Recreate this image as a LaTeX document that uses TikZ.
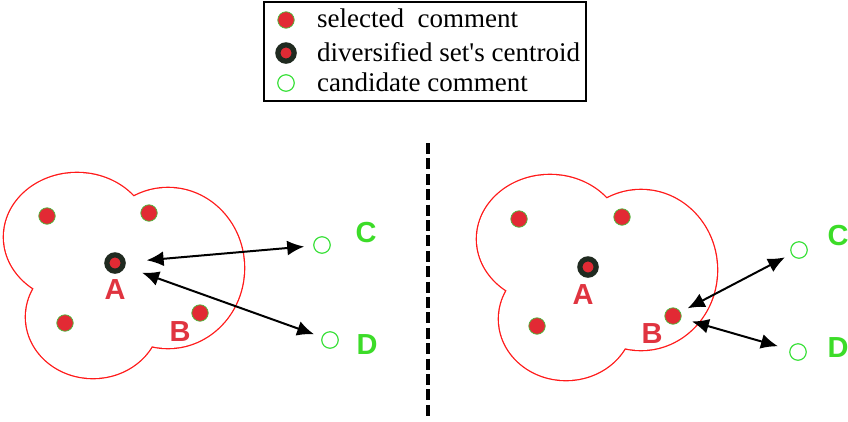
\documentclass[tikz,border=0pt]{standalone}
\usepackage{fontspec}
\setmainfont{Liberation Serif}
\setsansfont{Liberation Sans}
\newfontfamily\legendfont{Liberation Serif}
\usepackage{xcolor}
\usepackage{tikz}
\usetikzlibrary{arrows.meta}
\definecolor{dotred}{RGB}{226,42,52}
\definecolor{dotgreen}{RGB}{70,190,60}
\definecolor{ringdark}{RGB}{32,42,32}
\definecolor{candgreen}{RGB}{60,225,60}
\definecolor{labred}{RGB}{224,52,64}
\definecolor{labgreen}{RGB}{60,220,40}
\definecolor{cloudred}{RGB}{255,25,25}

% three overlapping lobes of a cluster
\newcommand{\lobes}{(77,237) ellipse [x radius=73pt, y radius=64pt]
  (93,317) ellipse [x radius=67pt, y radius=61pt]
  (168,268) ellipse [x radius=76pt, y radius=80pt]}

\begin{document}
\begin{tikzpicture}[x=1pt,y=-1pt,
    selected/.style={circle, fill=dotred, draw=dotgreen, line width=0.7pt, minimum size=16.5pt, inner sep=0pt},
    centroid/.style={circle, fill=dotred, draw=ringdark, line width=5.2pt, minimum size=16.3pt, inner sep=0pt},
    candidate/.style={circle, fill=white, draw=candgreen, line width=1.2pt, minimum size=16.5pt, inner sep=0pt},
    legtext/.style={anchor=base west, inner sep=0pt, font=\legendfont\fontsize{27}{33}\selectfont},
    lbl/.style={inner sep=0pt, font=\sffamily\bfseries\fontsize{29}{29}\selectfont},
    link/.style={{Latex[length=17pt,width=15pt]}-{Latex[length=17pt,width=15pt]}, line width=2pt}]
  \useasboundingbox (0,0) rectangle (848,421);

  % legend
  \draw[line width=2pt] (264,2) rectangle (586,101);
  \node[selected] (lsel) at (286,20) {};
  \node[centroid] (lcen) at (286,53) {};
  \node[candidate] (lcand) at (286,83) {};
  \node[legtext] (tsel) at (317,27) {selected~ comment};
  \node[legtext] (tcen) at (317,61) {diversified set's centroid};
  \node[legtext] (tcand) at (317,91) {candidate comment};

  % separator
  \draw[line width=3.6pt, dash pattern=on 11pt off 4.4pt] (428,143) -- (428,417);

  % clusters (outline of the union of lobes)
  \foreach \dy/\dx in {0/0,2/473} {
    \begin{scope}[shift={(\dx,\dy)}]
      \draw[cloudred, line width=2.6pt] \lobes;
      \fill[white] \lobes;
    \end{scope}
  }

  % left: distances from centroid A
  \node[selected] (s1) at (47,216) {};
  \node[selected] (s2) at (149,213) {};
  \node[selected] (s3) at (65,323) {};
  \node[selected] (s4) at (200,313) {};
  \node[centroid] (cA) at (115,263) {};
  \node[candidate] (cC) at (322,245) {};
  \node[candidate] (cD) at (330,340) {};
  \node[lbl, labred] (tA) at (115,290) {A};
  \node[lbl, labred] (tB) at (180,332) {B};
  \node[lbl, labgreen] (tC) at (366,233) {C};
  \node[lbl, labgreen] (tD) at (367,345) {D};
  \draw[link, shorten <=21pt, shorten >=9pt] (cA) -- (cC);
  \draw[link, shorten <=18pt, shorten >=8pt] (cA) -- (cD);

  % right: distances from comment B
  \node[selected] (r1) at (519,219) {};
  \node[selected] (r2) at (622,217) {};
  \node[selected] (r3) at (537,326) {};
  \node[selected] (rB) at (673,316) {};
  \node[centroid] (rA) at (588,267) {};
  \node[candidate] (rC) at (799,250) {};
  \node[candidate] (rD) at (798,352) {};
  \node[lbl, labred] (uA) at (583,295) {A};
  \node[lbl, labred] (uB) at (652,334) {B};
  \node[lbl, labgreen] (uC) at (838,236) {C};
  \node[lbl, labgreen] (uD) at (838,348) {D};
  \draw[link, shorten <=8pt, shorten >=7pt] (rB) -- (rC);
  \draw[link, shorten <=11pt, shorten >=12pt] (rB) -- (rD);
\end{tikzpicture}
\end{document}
